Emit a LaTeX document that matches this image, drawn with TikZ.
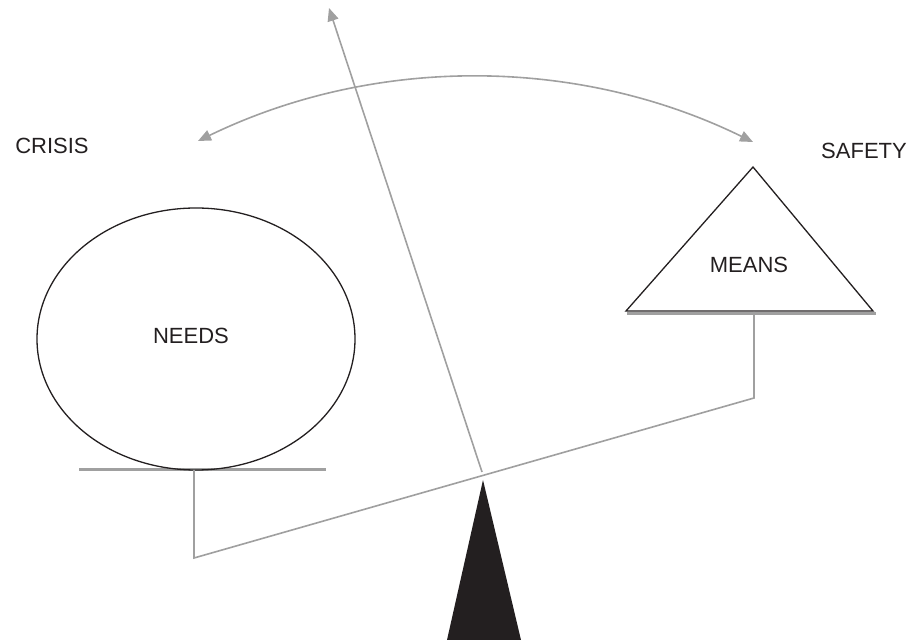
\documentclass[tikz,border=0pt]{standalone}
\usepackage{fontspec}
\setmainfont{Liberation Sans}
\usetikzlibrary{arrows.meta,shapes.geometric}
\definecolor{ink}{RGB}{35,31,32}
\definecolor{lgray}{RGB}{160,160,160}
\begin{document}
\begin{tikzpicture}[x=1pt,y=1pt,
  lab/.style={font=\fontsize{22}{26}\selectfont, text=ink, inner sep=0pt},
  gline/.style={draw=lgray, line width=1.6pt},
  ground/.style={draw=lgray, line width=3pt},
  outline/.style={draw=ink, line width=1.3pt},
  tipend/.style={-{Triangle[length=13pt,width=11pt]}},
  tipboth/.style={{Triangle[length=13pt,width=11pt]}-{Triangle[length=13pt,width=11pt]}}]
\useasboundingbox (0,0) rectangle (914,640);

% labels
\node[lab] (crisis) at (52,494.5) {CRISIS};
\node[lab] (safety) at (864,489) {SAFETY};

% arc double arrow
\coordinate (arcL) at (198,499);
\coordinate (arcR) at (753,498);
\draw[gline, lgray, tipboth] (arcL) to[bend left=26, looseness=0.9] (arcR);

% needs ellipse and its ground line
\coordinate (gL) at (79,170);
\coordinate (gR) at (326,170);
\coordinate (hangL) at (194,170);
\coordinate (beamL) at (194,82);
\coordinate (beamR) at (754,242);
\coordinate (hangR) at (754,328);
\draw[ground] (gL) -- (gR);
\node[ellipse, outline, minimum width=318pt, minimum height=262pt, inner sep=0pt] (needsshape) at (196,301) {};
\node[lab] (needs) at (191,304) {NEEDS};

% means triangle
\coordinate (mtop) at (753,473);
\coordinate (mleft) at (626,329);
\coordinate (mright) at (873,329);
\coordinate (mgL) at (627,326.5);
\coordinate (mgR) at (876,326.5);
\draw[ground] (mgL) -- (mgR);
\draw[outline, line join=miter] (mtop) -- (mleft) -- (mright) -- cycle;
\node[lab] (means) at (749,375) {MEANS};

% beam and hangers
\draw[gline, line join=miter] (hangL) -- (beamL) -- (beamR) -- (hangR);

% pointer
\coordinate (pbase) at (482,168);
\coordinate (ptip) at (329,632);
\draw[gline, lgray, tipend] (pbase) -- (ptip);

% fulcrum
\coordinate (fapex) at (483,160);
\coordinate (fl) at (447,0);
\coordinate (fr) at (521,0);
\fill[ink] (fapex) -- (fl) -- (fr) -- cycle;
\end{tikzpicture}
\end{document}
